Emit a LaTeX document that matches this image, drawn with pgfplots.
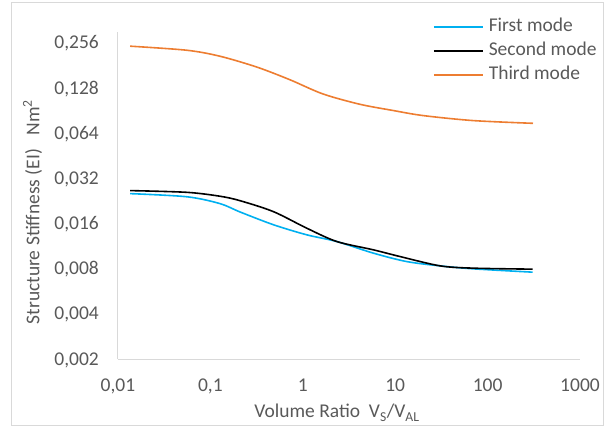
\documentclass[border=0pt]{standalone}
\usepackage{pgfplots}
\pgfplotsset{compat=1.18}
\usepackage{fontspec}
\setmainfont{Carlito}
\definecolor{txt}{HTML}{595959}
\definecolor{axc}{HTML}{D9D9D9}
\definecolor{c1}{HTML}{00B0F0}
\definecolor{c3}{HTML}{ED7D31}
\begin{document}
\fontsize{19.5bp}{23bp}\selectfont
\begin{tikzpicture}
\begin{axis}[
  name=ax, scale only axis, width=462bp, height=327bp,
  xmode=log, ymode=log, log basis y=2,
  xmin=0.01, xmax=1000, ymin=0.002, ymax=0.302,
  axis x line*=bottom, axis y line*=left,
  axis line style={axc, line width=1bp},
  major tick length=0pt, minor tick length=0pt,
  xtick={0.01,0.1,1,10,100,1000},
  xticklabels={{0,01},{0,1},1,10,100,1000},
  ytick={0.002,0.004,0.008,0.016,0.032,0.064,0.128,0.256},
  yticklabels={{0,002},{0,004},{0,008},{0,016},{0,032},{0,064},{0,128},{0,256}},
  xticklabel style={text=txt, inner sep=0pt, anchor=base, yshift=-32.85bp},
  yticklabel style={text=txt, inner sep=0pt, anchor=base east, xshift=-19bp, yshift=-6.15bp},
  xlabel={Volume Ratio\ \ V\textsubscript{S}/V\textsubscript{AL}},
  ylabel={Structure Stiffness (EI)\hspace{0.7em}Nm\textsuperscript{2}},
  xlabel style={text=txt, at={(axis description cs:0.474,-0.1804)}, anchor=base, inner sep=0pt},
  ylabel style={text=txt, at={(axis description cs:-0.1703,0.45)}, anchor=base, inner sep=0pt},
  legend style={at={(rel axis cs:0.6818,1.0425)}, anchor=north west, draw=none, fill=none,
    inner sep=0pt, outer sep=0pt, text=txt, column sep=5bp, row sep=6.45bp,
    nodes={inner sep=0pt, text height=13.65bp, text depth=3.9bp}},
  legend cell align=left,
  legend image code/.code={\draw[#1, line width=1.8bp] (0bp,0bp) -- (49bp,0bp);},
  every axis plot/.append style={line width=1.6bp, smooth, tension=0.5},
]
\addplot[c1] coordinates {
(0.0135,0.0253) (0.0558,0.0241) (0.127,0.0217) (0.209,0.0191) (0.48,0.0157)
(1.10,0.01345) (2.33,0.01213) (5.8,0.01015) (13.3,0.00892) (30.6,0.00835)
(70,0.00798) (307,0.00758)};
\addlegendentry{First mode}
\addplot[black] coordinates {
(0.0135,0.0265) (0.0558,0.0258) (0.127,0.0243) (0.209,0.0227) (0.48,0.0192)
(1.10,0.0149) (2.33,0.01213) (5.8,0.01068) (11.3,0.00963) (30.6,0.00835)
(70,0.00806) (307,0.00794)};
\addlegendentry{Second mode}
\addplot[c3] coordinates {
(0.0135,0.243) (0.0558,0.2282) (0.127,0.2082) (0.3194,0.1762) (0.727,0.1451)
(1.654,0.1167) (4.16,0.0996) (9.46,0.0906) (20.0,0.0838) (69.5,0.0776) (310,0.0744)};
\addlegendentry{Third mode}
\end{axis}
\draw[axc, line width=1bp, shift={(ax.south west)}] (-106.3bp,-66.7bp) rectangle (485.5bp,356bp);
\pgfresetboundingbox
\path[shift={(ax.south west)}] (-118bp,-68bp) rectangle (487bp,359bp);
\end{tikzpicture}
\end{document}
